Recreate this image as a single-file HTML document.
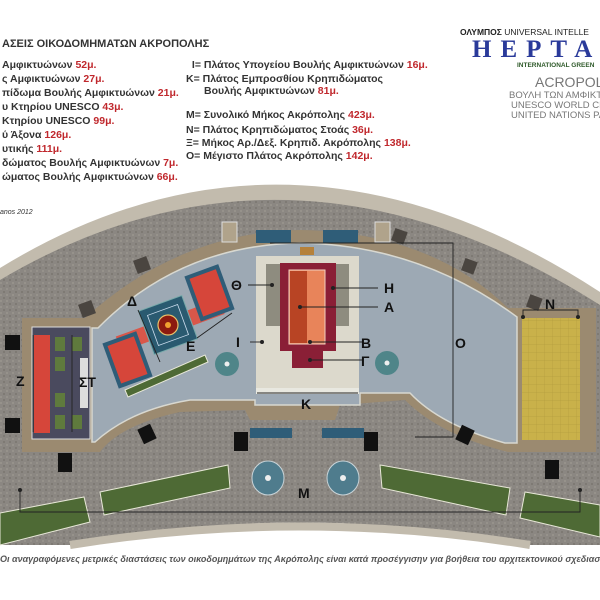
<!DOCTYPE html>
<html><head><meta charset="utf-8"><style>
body{margin:0;width:600px;height:600px;background:#fff;overflow:hidden;position:relative;font-family:"Liberation Sans",sans-serif}
.t{position:absolute;white-space:nowrap;font-weight:bold;font-size:10.5px;color:#333}
.c{right:0;overflow:hidden}
.r{color:#c0282d}
svg{position:absolute;left:0;top:0}
</style></head><body>
<svg width="600" height="600" viewBox="0 0 600 600">
<defs>
<pattern id="g" width="6" height="6" patternUnits="userSpaceOnUse"><rect width="6" height="6" fill="#8b8782"/><circle cx="1" cy="1" r="1" fill="#9a958e"/><circle cx="4" cy="4" r="1" fill="#7a766f"/></pattern>
<pattern id="y" width="8" height="8" patternUnits="userSpaceOnUse"><rect width="8" height="8" fill="#c9b14a"/><path d="M0 0H8M0 0V8" stroke="#b49d3e" stroke-width="0.7"/></pattern>
</defs>
<path d="M0,268 Q290,90 600,292 L600,545 L520,545 Q300,500 80,545 L0,545Z" fill="#c2bbad"/>
<path d="M0,280 Q290,108 600,305 L600,545 L520,545 Q300,512 80,545 L0,545Z" fill="url(#g)"/>
<path d="M80,545 Q300,500 520,545Z" fill="#fff"/>
<path d="M70,545 Q300,508 530,545" fill="none" stroke="#c2bbad" stroke-width="8"/>
<path d="M22,318 L85,318 Q180,232 300,230 Q430,232 508,308 L596,308 L596,452 L508,452 Q440,435 405,400 L340,405 L335,420 L250,420 L245,410 L180,412 Q120,425 100,452 L22,452Z" fill="#9b8a70"/>
<path d="M92,328 L98,328 Q180,245 300,243 Q420,245 517,317 L517,443 L505,443 Q440,425 410,393 L360,393 L360,405 L255,405 L255,400 L190,400 Q130,410 95,442 L92,442Z" fill="#9da9b4" stroke="#d8d8d0" stroke-width="1.5"/>
<rect x="222" y="222" width="15" height="20" fill="#b0a38b" stroke="#ddd"/>
<rect x="375" y="222" width="15" height="20" fill="#b0a38b" stroke="#ddd"/>
<rect x="256" y="230" width="35" height="13" fill="#2f5d78"/>
<rect x="323" y="230" width="35" height="13" fill="#2f5d78"/>
<rect x="300" y="247" width="14" height="8" fill="#b5813b"/>
<rect x="250" y="428" width="42" height="10" fill="#2f5d78"/>
<rect x="322" y="428" width="42" height="10" fill="#2f5d78"/>
<g fill="#111">
<rect x="5" y="335" width="15" height="15"/><rect x="5" y="418" width="15" height="15"/>
<rect x="58" y="453" width="14" height="19"/><rect x="234" y="432" width="14" height="19"/><rect x="364" y="432" width="14" height="19"/>
<rect x="545" y="460" width="14" height="19"/>
<rect x="140" y="426" width="14" height="16" transform="rotate(-25 147 434)"/>
<rect x="458" y="427" width="14" height="16" transform="rotate(25 465 435)"/>
</g>
<g fill="#4a4540">
<rect x="135" y="258" width="14" height="14" transform="rotate(-20 142 265)"/>
<rect x="80" y="302" width="14" height="14" transform="rotate(-20 87 309)"/>
<rect x="393" y="230" width="13" height="13" transform="rotate(20 400 236)"/>
<rect x="463" y="260" width="13" height="13" transform="rotate(20 470 266)"/>
<rect x="528" y="296" width="13" height="13" transform="rotate(20 534 302)"/>
</g>
<g fill="#4e6a35" stroke="#e8e8d8" stroke-width="1">
<path d="M0,513 L84,497 L90,522 L0,545Z"/>
<path d="M100,492 L228,465 L230,488 L104,515Z"/>
<path d="M380,465 L510,488 L506,515 L382,488Z"/>
<path d="M525,492 L600,505 L600,537 L520,518Z"/>
<path d="M125,390 L205,355 L208,362 L128,397Z"/>
</g>
<g><ellipse cx="268" cy="478" rx="16" ry="17" fill="#4f7c8d" stroke="#c9d4d8"/><circle cx="268" cy="478" r="3" fill="#eee"/>
<ellipse cx="343" cy="478" rx="16" ry="17" fill="#4f7c8d" stroke="#c9d4d8"/><circle cx="343" cy="478" r="3" fill="#eee"/>
<circle cx="227" cy="364" r="12" fill="#4f8589"/><circle cx="227" cy="364" r="2.5" fill="#eee"/>
<circle cx="387" cy="363" r="12" fill="#4f8589"/><circle cx="387" cy="363" r="2.5" fill="#eee"/>
<circle cx="69" cy="382" r="6" fill="#4f8589"/></g>
<rect x="32" y="327" width="58" height="112" fill="#4a4a5e" stroke="#ddd"/>
<rect x="34" y="335" width="16" height="98" fill="#d6463a"/>
<g fill="#5f7a3d"><rect x="55" y="337" width="10" height="14"/><rect x="72" y="337" width="10" height="14"/><rect x="55" y="357" width="10" height="14"/><rect x="55" y="393" width="10" height="14"/><rect x="55" y="415" width="10" height="14"/><rect x="72" y="415" width="10" height="14"/></g>
<rect x="80" y="358" width="8" height="50" fill="#ddd"/>
<rect x="522" y="318" width="58" height="122" fill="url(#y)"/>
<rect x="256" y="256" width="103" height="132" fill="#dcd9cc"/>
<rect x="266" y="264" width="14" height="62" fill="#8e8c7f"/><rect x="335" y="264" width="14" height="62" fill="#8e8c7f"/>
<rect x="280" y="263" width="56" height="88" fill="#8a1f36"/>
<rect x="292" y="350" width="31" height="18" fill="#8a1f36"/>
<rect x="289" y="270" width="36" height="74" fill="#e8845a" stroke="#f2d0c0"/>
<rect x="290" y="271" width="17" height="72" fill="#b84424"/>
<rect x="256" y="388" width="103" height="6" fill="#e8e8e0"/>
<g transform="rotate(-20 168 325)">
<rect x="115" y="318" width="110" height="16" fill="#d9574a"/>
<rect x="100" y="320" width="36" height="48" fill="#2f5d78"/><rect x="104" y="324" width="28" height="40" fill="#d6463a"/>
<rect x="200" y="285" width="36" height="48" fill="#2f5d78"/><rect x="204" y="289" width="28" height="40" fill="#d6463a"/>
<rect x="145" y="302" width="46" height="46" fill="#2a5a70" stroke="#7aa" stroke-width="1"/>
<rect x="152" y="309" width="32" height="32" fill="none" stroke="#cde" stroke-width="0.8"/>
</g>
<circle cx="168" cy="325" r="10" fill="#8c1a10" stroke="#e8c06a" stroke-width="1.2"/>
<circle cx="168" cy="325" r="3" fill="#f0a030"/>
<g stroke="#222" stroke-width="0.9" fill="none">
<path d="M33,335 V432"/><path d="M72,335 V432"/>
<path d="M257,393 H358"/>
<path d="M270,243 H453 V437 H415"/>
<path d="M523,317 V310 H578 V317"/>
<path d="M20,490 V512 H580 V490"/>
<path d="M138,310 L160,362"/>
<path d="M197,338 L232,313"/>
<path d="M248,285 H272"/><path d="M378,288 H333"/><path d="M378,307 H300"/>
<path d="M250,342 H262"/><path d="M362,342 H310"/><path d="M362,360 H310"/>
</g>
<g fill="#222"><circle cx="20" cy="490" r="2"/><circle cx="580" cy="490" r="2"/><circle cx="523" cy="317" r="2"/><circle cx="578" cy="317" r="2"/>
<circle cx="272" cy="285" r="2"/><circle cx="333" cy="288" r="2"/><circle cx="300" cy="307" r="2"/><circle cx="262" cy="342" r="2"/><circle cx="310" cy="342" r="2"/><circle cx="310" cy="360" r="2"/></g>
<g font-family="Liberation Sans,sans-serif" font-weight="bold" font-size="14" fill="#111">
<text x="231" y="290">Θ</text><text x="384" y="293">Η</text><text x="384" y="312">Α</text>
<text x="236" y="347">Ι</text><text x="186" y="351">Ε</text><text x="127" y="306">Δ</text>
<text x="361" y="348">Β</text><text x="361" y="366">Γ</text><text x="301" y="409">Κ</text>
<text x="455" y="348">Ο</text><text x="545" y="309">Ν</text><text x="16" y="386">Ζ</text>
<text x="79" y="387">ΣΤ</text><text x="298" y="498">Μ</text>
</g>
</svg>
<div class="t" style="left:2px;top:38px;font-size:11px">ΑΣΕΙΣ ΟΙΚΟΔΟΜΗΜΑΤΩΝ ΑΚΡΟΠΟΛΗΣ</div>
<div class="t" style="left:2px;top:59px">Αμφικτυώνων <span class="r">52μ.</span></div>
<div class="t" style="left:2px;top:73px">ς Αμφικτυώνων <span class="r">27μ.</span></div>
<div class="t" style="left:2px;top:87px">πίδωμα Βουλής Αμφικτυώνων <span class="r">21μ.</span></div>
<div class="t" style="left:2px;top:101px">υ Κτηρίου UNESCO <span class="r">43μ.</span></div>
<div class="t" style="left:2px;top:115px">Κτηρίου UNESCO <span class="r">99μ.</span></div>
<div class="t" style="left:2px;top:129px">ύ Άξονα <span class="r">126μ.</span></div>
<div class="t" style="left:2px;top:143px">υτικής <span class="r">111μ.</span></div>
<div class="t" style="left:2px;top:157px">δώματος Βουλής Αμφικτυώνων <span class="r">7μ.</span></div>
<div class="t" style="left:2px;top:171px">ώματος Βουλής Αμφικτυώνων <span class="r">66μ.</span></div>
<div class="t" style="left:189px;top:59px">&nbsp;Ι= Πλάτος Υπογείου Βουλής Αμφικτυώνων <span class="r">16μ.</span></div>
<div class="t" style="left:186px;top:73px">Κ= Πλάτος Εμπροσθίου Κρηπιδώματος</div>
<div class="t" style="left:204px;top:85px">Βουλής Αμφικτυώνων <span class="r">81μ.</span></div>
<div class="t" style="left:186px;top:109px">Μ= Συνολικό Μήκος Ακρόπολης <span class="r">423μ.</span></div>
<div class="t" style="left:186px;top:124px">Ν= Πλάτος Κρηπιδώματος Στοάς <span class="r">36μ.</span></div>
<div class="t" style="left:186px;top:137px">Ξ= Μήκος Αρ./Δεξ. Κρηπιδ. Ακρόπολης <span class="r">138μ.</span></div>
<div class="t" style="left:186px;top:150px">Ο= Μέγιστο Πλάτος Ακρόπολης <span class="r">142μ.</span></div>
<div class="t" style="left:0;top:209px;font-size:7px;font-style:italic;font-weight:normal">anos 2012</div>
<div class="t c" style="left:460px;top:27px;font-size:8.5px;color:#222">ΟΛΥΜΠΟΣ <span style="font-weight:normal">UNIVERSAL INTELLE</span></div>
<div class="t c" style="left:472px;top:36px;font-family:'Liberation Serif',serif;font-size:25px;color:#2a3a9a;letter-spacing:9px">HEPTAPO</div>
<div class="t c" style="left:517px;top:62px;font-size:6.5px;color:#2f5a2a">INTERNATIONAL GREEN</div>
<div class="t c" style="left:535px;top:74px;font-size:14px;color:#777;font-weight:normal">ACROPOLIS</div>
<div class="t c" style="left:509px;top:90px;font-size:9.5px;color:#777;font-weight:normal">ΒΟΥΛΗ ΤΩΝ ΑΜΦΙΚΤ</div>
<div class="t c" style="left:511px;top:100px;font-size:9.5px;color:#777;font-weight:normal">UNESCO WORLD CE</div>
<div class="t c" style="left:511px;top:110px;font-size:9.5px;color:#777;font-weight:normal">UNITED NATIONS PA</div>
<div class="t c" style="left:0;top:554px;font-size:9px;font-style:italic;color:#555">Οι αναγραφόμενες μετρικές διαστάσεις των οικοδομημάτων της Ακρόπολης είναι κατά προσέγγισην για βοήθεια του αρχιτεκτονικού σχεδιασ</div>
</body></html>
